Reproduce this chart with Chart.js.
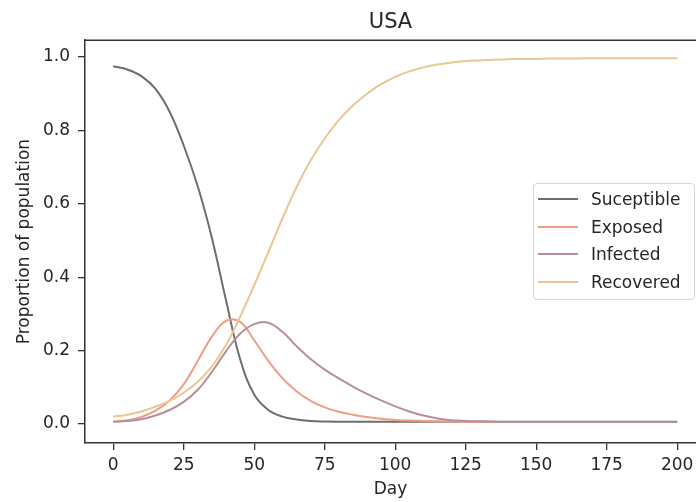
<!DOCTYPE html>
<html>
<head>
<meta charset="utf-8">
<script src="https://cdn.jsdelivr.net/npm/chart.js@4/dist/chart.umd.min.js"></script>
<style>
html,body{margin:0;padding:0;background:#fff;}
#wrap{position:relative;width:696px;height:502px;overflow:hidden;}
#legend{position:absolute;left:533px;top:183px;width:162px;height:117px;box-sizing:border-box;border:1px solid #d6d6d6;border-radius:4px;background:rgba(255,255,255,0.85);font-family:'DejaVu Sans';font-size:17px;color:#262626;}
.lg-item{position:absolute;left:0;width:100%;height:26px;}
.lg-line{position:absolute;left:4px;top:12px;width:40px;height:2px;}
.lg-text{position:absolute;left:57px;top:0;line-height:26px;white-space:nowrap;}
</style>
</head>
<body>
<div id="wrap">
<canvas id="c" width="696" height="502"></canvas>
<div id="legend"></div>
</div>
<script>
const days = [0,5,10,15,20,25,30,35,40,45,50,55,60,65,70,75,80,85,90,95,100,105,110,115,120,125,130,135,140,145,150,155,160,165,170,175,180,185,190,195,200];
const susceptible = [0.975,0.966,0.948,0.913,0.851,0.759,0.647,0.507,0.337,0.177,0.080,0.038,0.020,0.012,0.008,0.0065,0.006,0.006,0.006,0.006,0.006,0.006,0.006,0.006,0.006,0.006,0.006,0.006,0.006,0.006,0.006,0.006,0.006,0.006,0.006,0.006,0.006,0.006,0.006,0.006,0.006];
const exposed = [0.006,0.010,0.019,0.036,0.064,0.108,0.172,0.238,0.281,0.278,0.228,0.172,0.125,0.089,0.063,0.045,0.033,0.025,0.019,0.014,0.011,0.009,0.008,0.007,0.006,0.005,0.005,0.005,0.005,0.005,0.005,0.005,0.005,0.005,0.005,0.005,0.005,0.005,0.005,0.005,0.005];
const infected = [0.006,0.008,0.013,0.023,0.038,0.060,0.093,0.142,0.198,0.246,0.272,0.276,0.251,0.212,0.177,0.148,0.124,0.102,0.082,0.064,0.048,0.034,0.023,0.015,0.010,0.008,0.007,0.006,0.005,0.005,0.005,0.005,0.005,0.005,0.005,0.005,0.005,0.005,0.005,0.005,0.005];
const recovered = [0.020,0.025,0.034,0.047,0.063,0.085,0.115,0.157,0.215,0.292,0.378,0.468,0.560,0.645,0.718,0.778,0.828,0.868,0.900,0.926,0.946,0.961,0.972,0.980,0.985,0.989,0.991,0.993,0.994,0.995,0.995,0.996,0.996,0.996,0.997,0.997,0.997,0.997,0.997,0.997,0.997];
const seriesNames = ['Suceptible','Exposed','Infected','Recovered'];
const xTickValues = [0,25,50,75,100,125,150,175,200];
const yTickValues = [0.0,0.2,0.4,0.6,0.8,1.0];

const lineColors = ['#6e6e6e','#ec9e88','#b98e9c','#eac692'];
const allSeries = [susceptible, exposed, infected, recovered];
const FONT = 'DejaVu Sans';
const TXT = '#262626';
const SPINE = '#333333';

const topSpine = {
  id: 'topSpine',
  afterDraw(c) {
    const {ctx, chartArea: a} = c;
    ctx.save();
    ctx.strokeStyle = SPINE;
    ctx.lineWidth = 1.5;
    ctx.beginPath();
    ctx.moveTo(a.left, a.top);
    ctx.lineTo(a.right, a.top);
    ctx.stroke();
    ctx.restore();
  }
};

const chart = new Chart(document.getElementById('c'), {
  type: 'line',
  data: {
    datasets: allSeries.map((s, i) => ({
      label: seriesNames[i],
      data: days.map((d, j) => ({x: d, y: s[j]})),
      borderColor: lineColors[i],
      backgroundColor: lineColors[i],
      borderWidth: 2,
      pointRadius: 0,
      fill: false,
      tension: 0.4,
      order: allSeries.length - 1 - i
    }))
  },
  options: {
    responsive: false,
    animation: false,
    devicePixelRatio: 1,
    layout: {padding: 0},
    plugins: {
      legend: {display: false},
      tooltip: {enabled: false},
      title: {
        display: true,
        text: 'USA',
        fullSize: false,
        color: TXT,
        font: {family: FONT, size: 21, weight: 'normal'},
        padding: {top: 10, bottom: 5}
      }
    },
    scales: {
      x: {
        type: 'linear',
        min: -10,
        max: 206.67,
        afterBuildTicks: s => { s.ticks = xTickValues.map(v => ({value: v})); },
        afterFit: s => { s.height = 59; s.paddingLeft = 0; s.paddingRight = 0; },
        ticks: {color: TXT, font: {family: FONT, size: 17}, padding: 5, maxRotation: 0, autoSkip: false, callback: v => String(v)},
        grid: {drawOnChartArea: false, drawTicks: true, tickLength: 7, color: SPINE, lineWidth: 1.3},
        border: {display: true, color: SPINE, width: 1.5},
        title: {display: true, text: 'Day', color: TXT, font: {family: FONT, size: 17}, padding: {top: 0, bottom: 2}}
      },
      y: {
        type: 'linear',
        min: -0.052,
        max: 1.046,
        afterBuildTicks: s => { s.ticks = yTickValues.map(v => ({value: v})); },
        afterFit: s => { s.width = 85; s.paddingTop = 0; s.paddingBottom = 0; },
        ticks: {color: TXT, font: {family: FONT, size: 17}, padding: 8, autoSkip: false, callback: v => Number(v).toFixed(1)},
        grid: {drawOnChartArea: false, drawTicks: true, tickLength: 7, color: SPINE, lineWidth: 1.3},
        border: {display: true, color: SPINE, width: 1.5},
        title: {display: true, text: 'Proportion of population', color: TXT, font: {family: FONT, size: 17}, padding: {top: 14, bottom: 0}}
      }
    }
  },
  plugins: [topSpine]
});

// Legend built from the chart's datasets
const legendEl = document.getElementById('legend');
chart.data.datasets.forEach((ds, i) => {
  const item = document.createElement('div');
  item.className = 'lg-item';
  item.style.top = (2 + i * 27.5) + 'px';
  const ln = document.createElement('div');
  ln.className = 'lg-line';
  ln.style.background = ds.borderColor;
  const tx = document.createElement('div');
  tx.className = 'lg-text';
  tx.textContent = ds.label;
  item.appendChild(ln);
  item.appendChild(tx);
  legendEl.appendChild(item);
});
</script>
</body>
</html>
